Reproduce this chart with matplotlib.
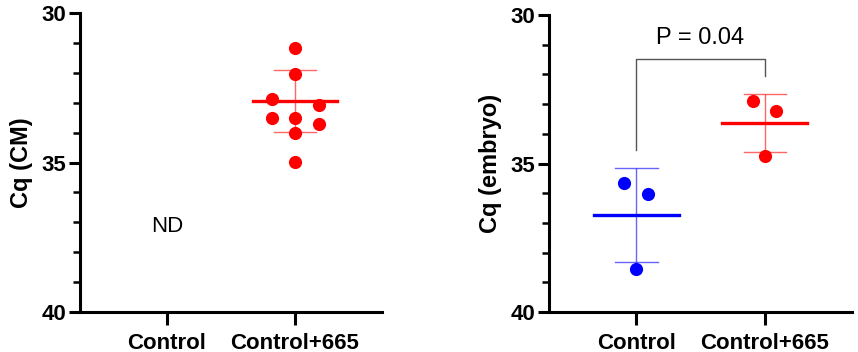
import numpy as np
import matplotlib
matplotlib.use("Agg")
import matplotlib.pyplot as plt
from matplotlib.ticker import MultipleLocator, FixedLocator

plt.rcParams['font.family'] = ['Liberation Sans', 'DejaVu Sans']

categories = ['Control', 'Control+665']

# left panel (CM): control not detected
cm_red_vals = [31.17, 32.05, 32.89, 33.09, 33.51, 33.51, 33.70, 34.00, 34.99]
cm_red_offs = [0.0, 0.0, -0.18, 0.19, -0.18, 0.0, 0.19, 0.0, 0.0]
cm_red_mean = 32.95
cm_red_sd = 1.03
cm_nd_label = 'ND'

# right panel (embryo)
emb_blue_vals = [35.64, 36.02, 38.55]
emb_blue_offs = [-0.10, 0.09, 0.0]
emb_blue_mean = 36.73
emb_blue_sd = 1.58
emb_red_vals = [32.91, 33.23, 34.73]
emb_red_offs = [-0.09, 0.09, 0.0]
emb_red_mean = 33.63
emb_red_sd = 0.97
p_text = 'P = 0.04'

RED = '#ff0000'
BLUE = '#0000ff'


def style_axis(ax, ylabel):
    ax.set_ylim(40, 30)
    ax.set_xlim(-0.68, 1.68)
    ax.yaxis.set_major_locator(FixedLocator([30, 35, 40]))
    ax.yaxis.set_minor_locator(MultipleLocator(1))
    ax.set_xticks([0, 1])
    ax.set_xticklabels(categories, fontsize=16, fontweight='bold')
    for lab in ax.get_yticklabels():
        lab.set_fontsize(16)
        lab.set_fontweight('bold')
    ax.spines['top'].set_visible(False)
    ax.spines['right'].set_visible(False)
    ax.spines['left'].set_linewidth(2.2)
    ax.spines['bottom'].set_linewidth(2.2)
    ax.tick_params(axis='y', which='major', length=8, width=2.2, pad=2)
    ax.tick_params(axis='y', which='minor', length=5, width=1.8)
    ax.tick_params(axis='x', which='major', length=9, width=2.2, pad=6)
    ax.set_ylabel(ylabel, fontsize=17, fontweight='bold', labelpad=6)


def group(ax, x, vals, offs, mean, sd, color):
    ax.scatter([x + o for o in offs], vals, s=90, color=color, zorder=3,
               linewidths=0)
    ax.plot([x - 0.33, x + 0.33], [mean, mean], color=color, lw=2.4, zorder=4)
    ax.errorbar([x], [mean], yerr=[sd], color=color, alpha=0.6, lw=1.0,
                capsize=0, zorder=2)
    for yy in (mean - sd, mean + sd):
        ax.plot([x - 0.165, x + 0.165], [yy, yy], color=color, alpha=0.6,
                lw=1.0, zorder=2)


fig = plt.figure(figsize=(8.58, 3.52), dpi=100)
ax1 = fig.add_axes([0.0932, 0.1136, 0.352, 0.8494])
ax2 = fig.add_axes([0.640, 0.1136, 0.353, 0.8437])

style_axis(ax1, 'Cq (CM)')
group(ax1, 1, cm_red_vals, cm_red_offs, cm_red_mean, cm_red_sd, RED)
ax1.text(0, 37.13, cm_nd_label, fontsize=16, ha='center', va='center')

style_axis(ax2, 'Cq (embryo)')
group(ax2, 0, emb_blue_vals, emb_blue_offs, emb_blue_mean, emb_blue_sd, BLUE)
group(ax2, 1, emb_red_vals, emb_red_offs, emb_red_mean, emb_red_sd, RED)
ax2.plot([0, 0, 1, 1], [34.54, 31.48, 31.48, 32.05], color='#555555', lw=1.0)
ax2.text(0.5, 30.78, p_text, fontsize=17, ha='center', va='center')

fig.savefig('out.png', dpi=100)
